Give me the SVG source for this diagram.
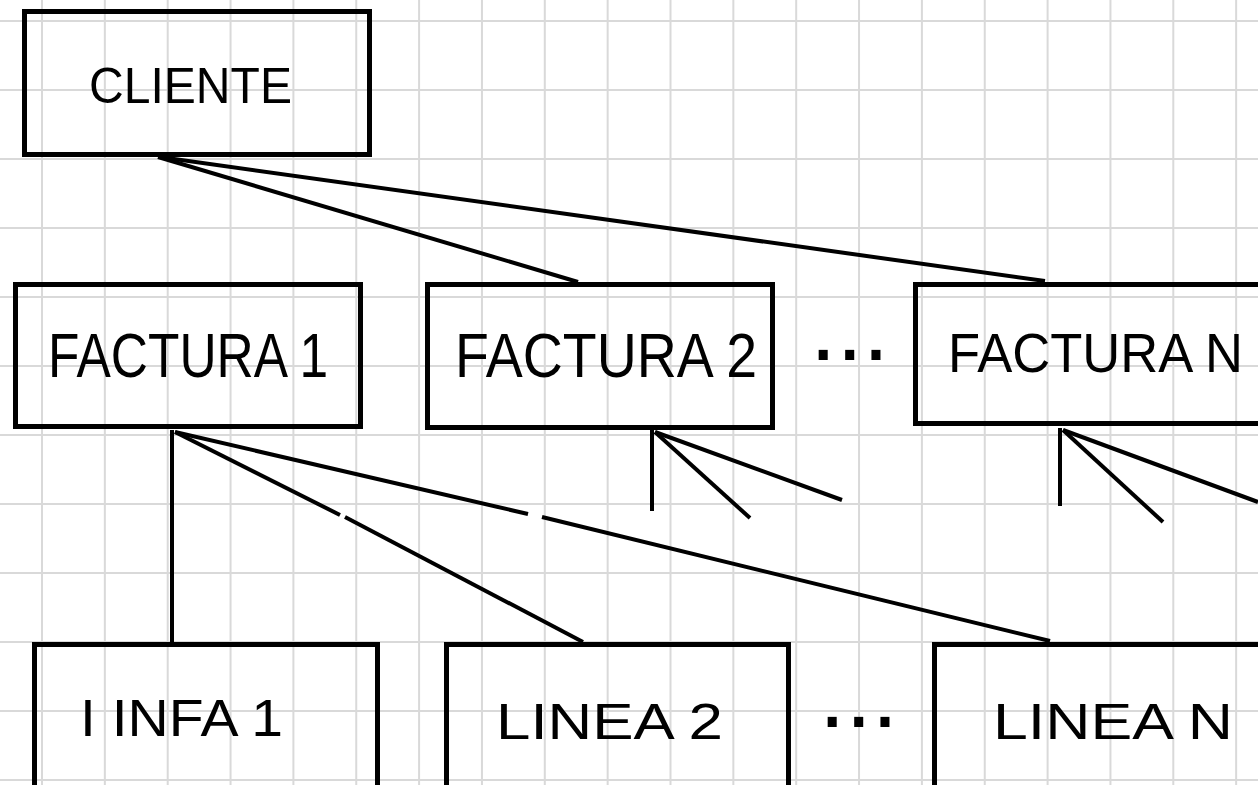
<svg xmlns="http://www.w3.org/2000/svg" width="1258" height="785" viewBox="0 0 1258 785">
<style>
.grid{stroke:#d9d9d9;stroke-width:2;fill:none}
.box{fill:none;stroke:#000;stroke-width:5}
.lbl{font-family:"Liberation Sans",Arial,sans-serif;fill:#000}
.dots{font-family:"Liberation Sans",Arial,sans-serif;fill:#000;font-size:95px}
.conn line,.conn polyline{stroke:#000;stroke-width:4;fill:none}
</style>
<rect x="0" y="0" width="1258" height="785" fill="#fff"/>
<g id="grid" class="grid">
<path d="M42 0V785M104.85 0V785M167.7 0V785M230.55 0V785M293.4 0V785M356.25 0V785M419.1 0V785M481.95 0V785M544.8 0V785M607.65 0V785M670.5 0V785M733.35 0V785M796.2 0V785M859.05 0V785M921.9 0V785M984.75 0V785M1047.6 0V785M1110.45 0V785M1173.3 0V785M1236.15 0V785"/>
<path d="M0 21H1258M0 90H1258M0 159H1258M0 228H1258M0 297H1258M0 366H1258M0 435H1258M0 504H1258M0 573H1258M0 642H1258M0 711H1258M0 780H1258"/>
</g>
<g id="connectors" class="conn">
<line x1="158" y1="157" x2="578" y2="282"/>
<line x1="160" y1="157" x2="1045" y2="281"/>
<line x1="172" y1="430" x2="172" y2="642"/>
<line x1="175" y1="432" x2="340" y2="515"/>
<line x1="345" y1="517" x2="583" y2="642"/>
<line x1="175" y1="432" x2="528" y2="514"/>
<line x1="542" y1="517" x2="1050" y2="641"/>
<line x1="652" y1="430" x2="652" y2="511"/>
<line x1="655" y1="432" x2="750" y2="518"/>
<line x1="655" y1="432" x2="842" y2="500"/>
<line x1="1060" y1="428" x2="1060" y2="506"/>
<line x1="1063" y1="430" x2="1163" y2="522"/>
<line x1="1063" y1="430" x2="1258" y2="502"/>
</g>
<g id="cliente">
<rect class="box" x="24.5" y="11.5" width="345" height="143"/>
<text class="lbl" x="89" y="103" font-size="50" textLength="203" lengthAdjust="spacingAndGlyphs">CLIENTE</text>
</g>
<g id="factura1">
<rect class="box" x="15.5" y="284.5" width="345" height="142"/>
<text class="lbl" x="48" y="377" font-size="63" textLength="280" lengthAdjust="spacingAndGlyphs">FACTURA 1</text>
</g>
<g id="factura2">
<rect class="box" x="427.5" y="284.5" width="345" height="143"/>
<text class="lbl" x="455" y="377" font-size="63" textLength="302" lengthAdjust="spacingAndGlyphs">FACTURA 2</text>
</g>
<g id="dots1">
<text class="dots" x="810" y="360">...</text>
</g>
<g id="facturaN">
<rect class="box" x="915.5" y="284.5" width="360" height="139"/>
<text class="lbl" x="948" y="372" font-size="56" textLength="295" lengthAdjust="spacingAndGlyphs">FACTURA N</text>
</g>
<g id="linea1">
<rect class="box" x="34.5" y="644.5" width="343" height="160"/>
<text class="lbl" x="80" y="736" font-size="52" textLength="203" lengthAdjust="spacingAndGlyphs">I INFA 1</text>
</g>
<g id="linea2">
<rect class="box" x="446.5" y="644.5" width="342" height="160"/>
<text class="lbl" x="496" y="739" font-size="50" textLength="227" lengthAdjust="spacingAndGlyphs">LINEA  2</text>
</g>
<g id="dots2">
<text class="dots" x="819" y="727">...</text>
</g>
<g id="lineaN">
<rect class="box" x="934.5" y="644.5" width="360" height="160"/>
<text class="lbl" x="993" y="739" font-size="50" textLength="240" lengthAdjust="spacingAndGlyphs">LINEA  N</text>
</g>
</svg>
